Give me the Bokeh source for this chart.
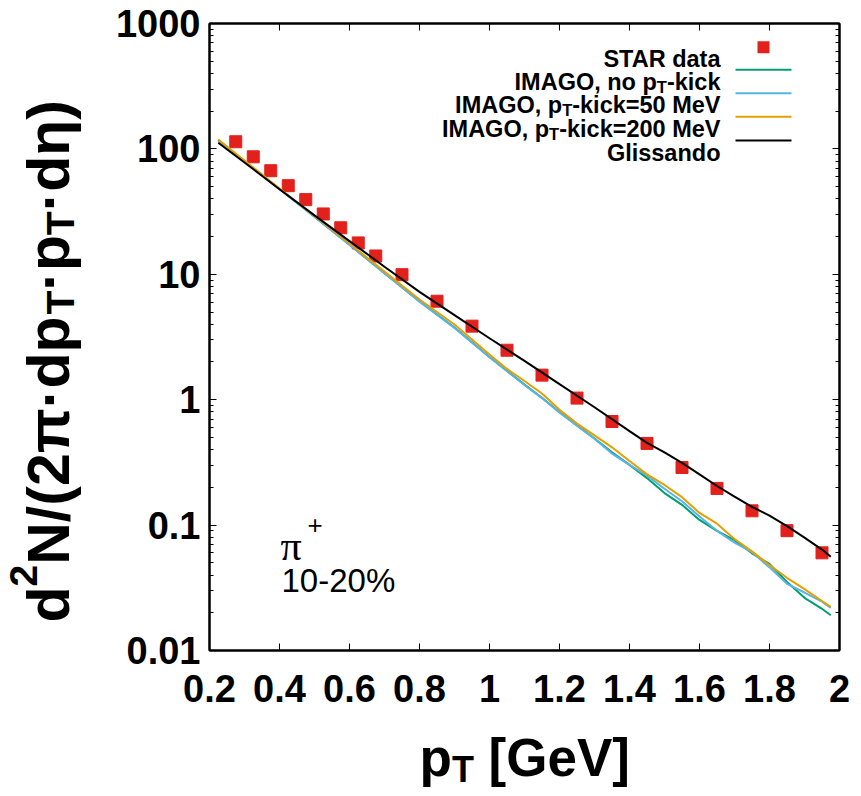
import math
from bokeh.plotting import figure
from bokeh.layouts import row, column
from bokeh.models import (Label, BoxAnnotation, FixedTicker, CustomJSTickFormatter,
                          LinearAxis, LogAxis)
from bokeh.embed import file_html
from bokeh.resources import INLINE

# ---------------- data ----------------
pt_star = [0.275, 0.325, 0.375, 0.425, 0.475, 0.525, 0.575, 0.625, 0.675, 0.75,
           0.85, 0.95, 1.05, 1.15, 1.25, 1.35, 1.45, 1.55, 1.65, 1.75, 1.85, 1.95]
y_star = [114, 86.5, 67.0, 50.9, 39.4, 30.3, 23.5, 17.8, 14.0, 9.93,
          6.10, 3.86, 2.48, 1.57, 1.03, 0.670, 0.448, 0.288, 0.196, 0.130, 0.0903, 0.0601]

pt_model = [0.225, 0.3, 0.4, 0.5, 0.6, 0.7, 0.8, 0.9, 1.0, 1.05, 1.1, 1.15, 1.2, 1.25,
            1.3, 1.35, 1.4, 1.45, 1.5, 1.55, 1.6, 1.65, 1.7, 1.75, 1.8, 1.85, 1.9, 1.95, 1.975]
y_nokick = [117.5, 79.4, 47.9, 28.8, 17.2, 10.2, 6.1, 3.76, 2.19, 1.70, 1.32, 1.035, 0.794, 0.624,
            0.49, 0.38, 0.302, 0.237, 0.18, 0.145, 0.110, 0.090, 0.0759, 0.0596, 0.049, 0.0352,
            0.0263, 0.0215, 0.0191]
y_kick50 = [117.5, 79.4, 47.9, 28.8, 17.2, 10.2, 6.05, 3.74, 2.18, 1.69, 1.31, 1.03, 0.79, 0.62,
            0.488, 0.372, 0.302, 0.248, 0.195, 0.155, 0.117, 0.090, 0.0724, 0.061, 0.046, 0.034,
            0.029, 0.0245, 0.0219]
y_kick200 = [119, 80.7, 48.4, 29.2, 17.6, 10.5, 6.3, 3.98, 2.29, 1.76, 1.41, 1.12, 0.83, 0.645,
             0.519, 0.417, 0.324, 0.254, 0.209, 0.167, 0.125, 0.1026, 0.0774, 0.0617, 0.0479, 0.038,
             0.0309, 0.0248, 0.0223]

pt_glis = [0.225, 0.3, 0.4, 0.5, 0.6, 0.7, 0.8, 0.9, 1.0, 1.1, 1.2, 1.3, 1.4, 1.45, 1.5,
           1.55, 1.6, 1.65, 1.7, 1.75, 1.8, 1.85, 1.9, 1.95, 1.975]
y_glis = [112, 77.8, 47.7, 29.5, 18.4, 11.5, 7.24, 4.73, 3.09, 2.04, 1.33, 0.871, 0.562, 0.452,
          0.380, 0.313, 0.254, 0.205, 0.169, 0.140, 0.119, 0.098, 0.0794, 0.0638, 0.056]

x_ticks = [0.2, 0.4, 0.6, 0.8, 1.0, 1.2, 1.4, 1.6, 1.8, 2.0]
y_ticks = [0.01, 0.1, 1, 10, 100, 1000]
y_minor = [k * 10.0 ** e for e in range(-2, 3) for k in range(2, 10)]

C_STAR = "#e3211c"
C_NOKICK = "#009e73"
C_K50 = "#56b4e9"
C_K200 = "#e69f00"
C_GLIS = "#000000"

# ---------------- layout (canvas pixels) ----------------
W, H = 861, 796
LW = 100            # left strip (y title)
HM = 728            # height of the main row
FL, FR, FT, FB = 209, 839, 23, 650   # frame edges in canvas pixels
FONT = "Liberation Sans"

p = figure(width=W - LW, height=HM, x_range=(0.2, 2.0), y_range=(0.01, 1000),
           y_axis_type="log", output_backend="svg", toolbar_location=None,
           min_border_left=FL - LW, min_border_right=W - FR,
           min_border_top=FT, min_border_bottom=HM - FB)
p.xgrid.visible = False
p.ygrid.visible = False
p.background_fill_color = "white"
p.border_fill_color = "white"
p.outline_line_color = "black"
p.outline_line_width = 2

def strip(w, h):
    f = figure(width=w, height=h, x_range=(0, 1), y_range=(0, 1),
               x_axis_location=None, y_axis_location=None, min_border=0,
               output_backend="svg", toolbar_location=None)
    f.xgrid.visible = False
    f.ygrid.visible = False
    f.outline_line_color = None
    f.background_fill_color = "white"
    f.border_fill_color = "white"
    return f

left = strip(LW, HM)
bottom = strip(W, H - HM)

xfmt = CustomJSTickFormatter(code="return String(Math.round(tick*10)/10);")
yfmt = CustomJSTickFormatter(code="return String(tick);")
empty = CustomJSTickFormatter(code="return '';")

def style_axis(ax, fmt, standoff):
    ax.formatter = fmt
    ax.major_tick_in = 7
    ax.major_tick_out = 0
    ax.minor_tick_in = 4
    ax.minor_tick_out = 0
    ax.axis_line_color = "black"
    ax.axis_line_width = 2
    ax.major_tick_line_width = 1
    ax.minor_tick_line_width = 1
    ax.major_label_text_font = FONT
    ax.major_label_text_font_style = "bold"
    ax.major_label_text_font_size = "38px"
    ax.major_label_text_color = "black"
    ax.major_label_standoff = standoff

xt = FixedTicker(ticks=x_ticks, minor_ticks=[])
yt = FixedTicker(ticks=y_ticks, minor_ticks=y_minor)
p.xaxis.ticker = xt
p.yaxis.ticker = yt
style_axis(p.xaxis[0], xfmt, 24)
style_axis(p.yaxis[0], yfmt, 9)

top = LinearAxis(ticker=xt)
style_axis(top, empty, 0)
top.major_label_text_font_size = "1px"
p.add_layout(top, "above")
right = LogAxis(ticker=yt)
style_axis(right, empty, 0)
right.major_label_text_font_size = "1px"
p.add_layout(right, "right")

# ---------------- series ----------------
p.scatter(pt_star, y_star, marker="square", size=12, fill_color=C_STAR, line_color=C_STAR)
p.line(pt_model, y_nokick, line_color=C_NOKICK, line_width=2)
p.line(pt_model, y_kick50, line_color=C_K50, line_width=2)
p.line(pt_model, y_kick200, line_color=C_K200, line_width=2)
p.line(pt_glis, y_glis, line_color=C_GLIS, line_width=2)

# ---------------- text helpers ----------------
AW = {' ': 278, '%': 889, '(': 333, ')': 333, '+': 584, ',': 278, '-': 333, '.': 278, '/': 278,
      '=': 584, '[': 333, ']': 333, '\u00b7': 330, '\u03c0': 800, '\u03b7': 640,
      'A': 722, 'G': 778, 'I': 278, 'M': 833, 'N': 722, 'O': 778, 'R': 722, 'S': 667, 'T': 611,
      'V': 667, 'a': 556, 'c': 556, 'd': 611, 'e': 556, 'i': 278, 'k': 556, 'l': 278, 'n': 611,
      'o': 611, 'p': 611, 's': 556, 't': 333}

def tw(s, size):
    return sum(AW.get(ch, 556) for ch in s) * size / 1000.0

def lab(fig, ox, oy, text, cx, cy, size, bold=True, align="left", angle=0.0, font=FONT):
    # ox: canvas x of the figure frame's left edge; oy: canvas y of its bottom edge
    fig.add_layout(Label(x=cx - ox, y=oy - cy, x_units="screen", y_units="screen",
                         text=text, text_font=font, text_font_size=f"{size}px",
                         text_font_style="bold" if bold else "normal",
                         text_align=align, text_baseline="alphabetic", angle=angle,
                         text_color="black"))

def mlab(*a, **k):
    lab(p, FL, FB, *a, **k)

def box(cx0, cx1, cy0, cy1, color):
    p.add_layout(BoxAnnotation(left=cx0 - FL, right=cx1 - FL, top=FB - cy0, bottom=FB - cy1,
                               left_units="screen", right_units="screen",
                               top_units="screen", bottom_units="screen",
                               fill_color=color, fill_alpha=1.0, line_color=None))

# ---------------- legend (right aligned text, sample on right) ----------------
LS = 23.5
SUB = 16.5
XR = 720
rows = [
    (["STAR data"], None, 46.7),
    (["IMAGO, no p", "T", "-kick"], C_NOKICK, 69.3),
    (["IMAGO, p", "T", "-kick=50 MeV"], C_K50, 92.7),
    (["IMAGO, p", "T", "-kick=200 MeV"], C_K200, 116.3),
    (["Glissando"], C_GLIS, 140.0),
]
for parts, col, ly in rows:
    base = ly + 12
    if len(parts) == 1:
        mlab(parts[0], XR, base, LS, align="right")
    else:
        a, s, b = parts
        mlab(b, XR, base, LS, align="right")
        xs = XR - tw(b, LS)
        mlab(s, xs, base + 5, SUB, align="right")
        xa = xs - tw(s, SUB)
        mlab(a, xa, base, LS, align="right")
    if col is None:
        box(757, 769, ly - 6, ly + 6, C_STAR)
    else:
        box(735, 791, ly - 1, ly + 1, col)

# ---------------- in-plot annotation ----------------
mlab("\u03c0", 280, 545, 42, bold=False, font="Liberation Serif")
mlab("+", 307, 524, 26, bold=False)
mlab("10-20%", 281, 580, 33, bold=False)

# ---------------- x title (bottom strip) ----------------
BX_DX, BX_DY = 0, -20      # measured placement correction of the strip
XF = 53
XS = 36
x0 = 419
lab(bottom, 0, H, "p", x0 + BX_DX, 777 + BX_DY, XF)
x1 = x0 + tw("p", XF)
lab(bottom, 0, H, "T", x1 + BX_DX, 789 + BX_DY, XS)
x2 = x1 + tw("T", XS) + tw(" ", XF)
lab(bottom, 0, H, "[GeV]", x2 + BX_DX, 777 + BX_DY, XF)

# ---------------- y title (left strip, rotated) ----------------
LX_DX, LY_DY = -28, 83     # measured placement correction of the strip
YF = 59
YS = 39
bx = 76
y = 617
ang = math.pi / 2
pieces = [("d", "n"), ("2", "sup"), ("N/(2\u03c0\u00b7dp", "n"), ("T", "sub"),
          ("\u00b7p", "n"), ("T", "sub"), ("\u00b7d\u03b7)", "n")]
for t, kind in pieces:
    if kind == "n":
        lab(left, 0, HM, t, bx + LX_DX, y + LY_DY, YF, angle=ang)
        y -= tw(t, YF)
    elif kind == "sup":
        lab(left, 0, HM, t, bx - 0.42 * YF + LX_DX, y + LY_DY, YS, angle=ang)
        y -= tw(t, YS)
    else:
        lab(left, 0, HM, t, bx + 0.2 * YF + LX_DX, y + LY_DY, YS, angle=ang)
        y -= tw(t, YS)

layout = column(row(left, p, spacing=0), bottom, spacing=0)
open("out.html", "w").write(file_html(layout, INLINE))
